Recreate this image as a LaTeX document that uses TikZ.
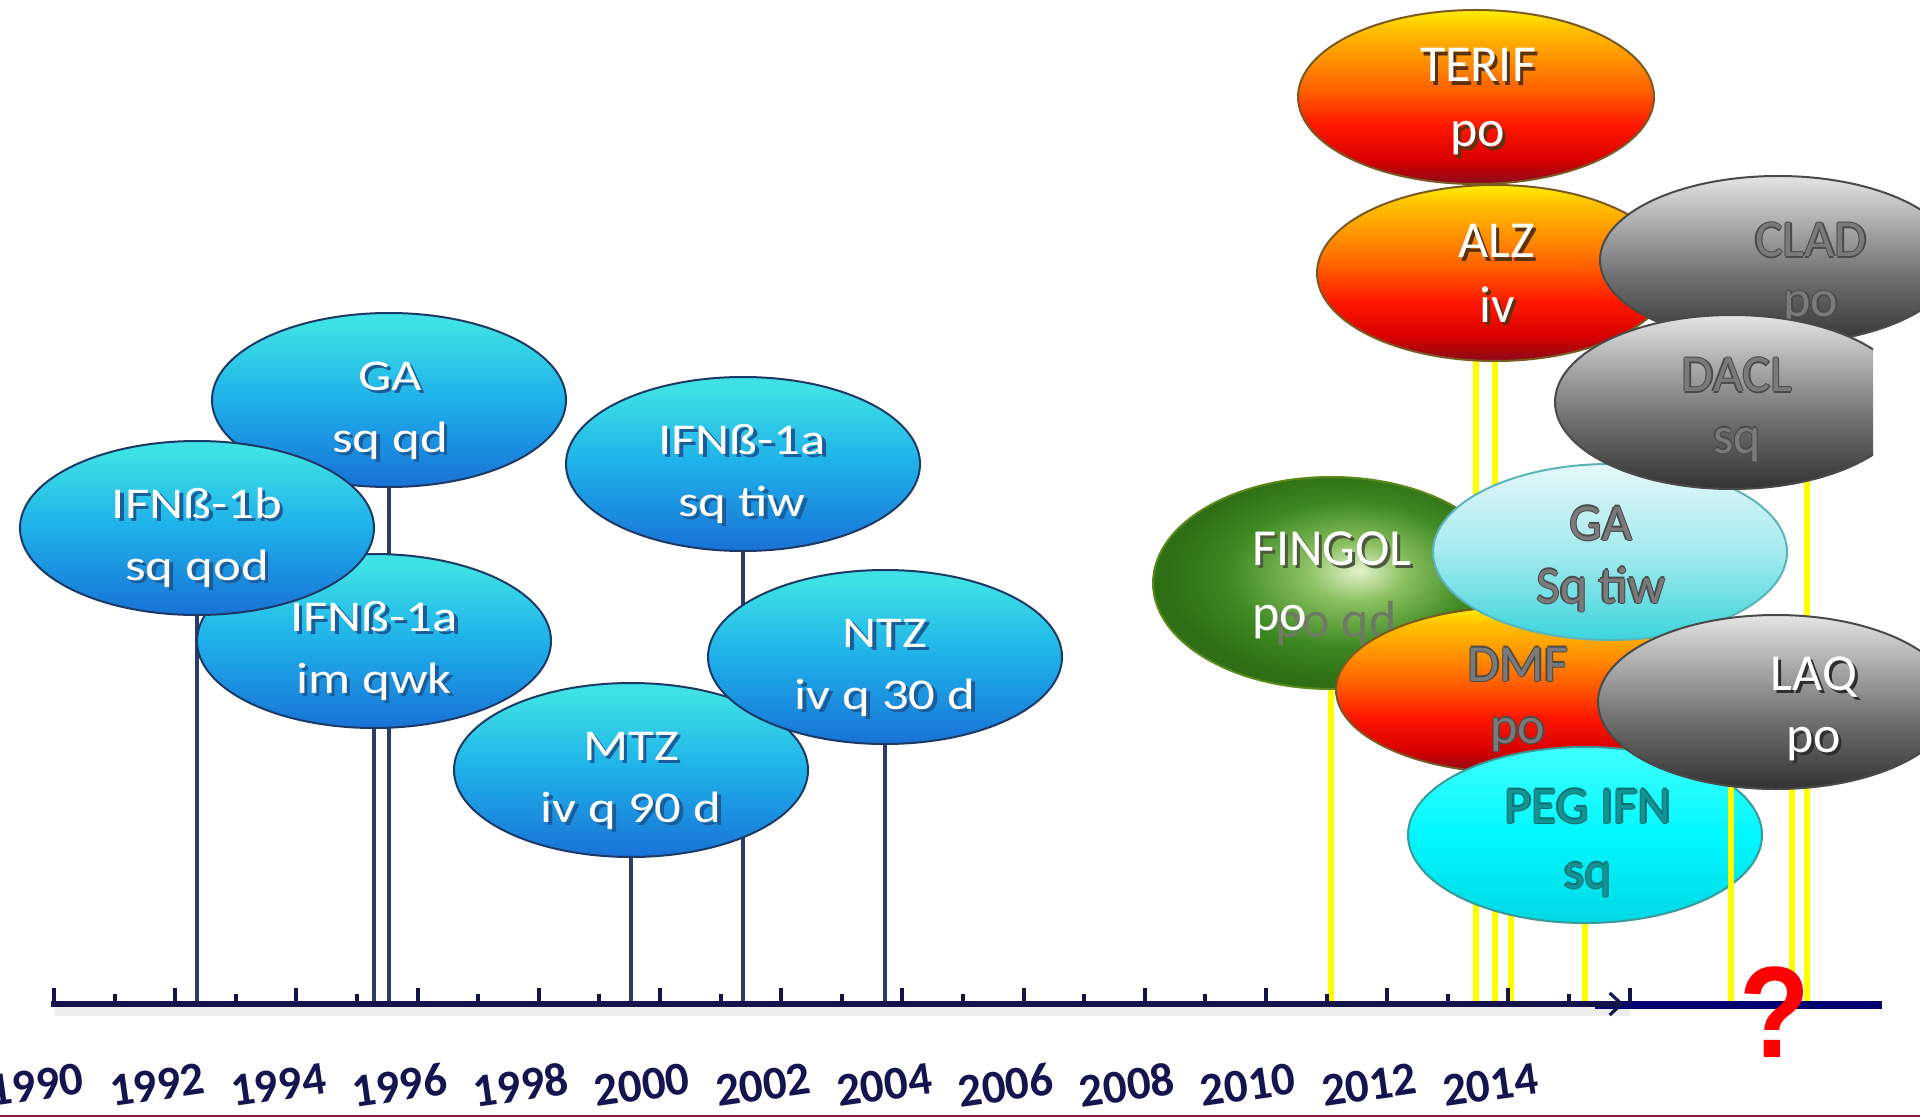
\documentclass[tikz,border=0pt]{standalone}
\usepackage{fontspec}
\setmainfont{Carlito}
\newfontfamily\qfont{Liberation Sans}
\usetikzlibrary{arrows.meta,shapes.geometric}
\pgfdeclarelayer{back}
\pgfdeclarelayer{bg}
\pgfsetlayers{back,bg,main}

\definecolor{bTop}{HTML}{3EE2E4}
\definecolor{bMid}{HTML}{1EB0EA}
\definecolor{bBot}{HTML}{1872D6}
\definecolor{bEdge}{HTML}{1D3A66}
\definecolor{bShd}{HTML}{1B5C9A}
\definecolor{bStem}{HTML}{2B3C6B}
\definecolor{wY}{HTML}{FFF000}
\definecolor{wOc}{HTML}{FFC200}
\definecolor{wOb}{HTML}{FF9800}
\definecolor{wOa}{HTML}{FF6000}
\definecolor{wRc}{HTML}{FF1800}
\definecolor{wRb}{HTML}{D80000}
\definecolor{wRa}{HTML}{8A0A1A}
\definecolor{wEdge}{HTML}{7A5A20}
\definecolor{wShd}{HTML}{5A3210}
\definecolor{gC}{HTML}{E4E4E4}
\definecolor{gB}{HTML}{B0B0B0}
\definecolor{gA}{HTML}{707070}
\definecolor{gZ}{HTML}{333333}
\definecolor{gEdge}{HTML}{4A4A4A}
\definecolor{cyTop}{HTML}{E4F8F9}
\definecolor{cyMid}{HTML}{A4EAEE}
\definecolor{cyBot}{HTML}{3CD4DC}
\definecolor{cyEdge}{HTML}{5AB4BC}
\definecolor{pgTop}{HTML}{40FFFF}
\definecolor{pgMid}{HTML}{00F8FF}
\definecolor{pgBot}{HTML}{00D8E4}
\definecolor{pgEdge}{HTML}{3A9A9A}
\definecolor{fgIn}{HTML}{E4F2CC}
\definecolor{fgMid}{HTML}{8AC060}
\definecolor{fgOut}{HTML}{3E8A22}
\definecolor{fgDk}{HTML}{2E6E14}
\definecolor{fgEdge}{HTML}{5A8A1A}
\definecolor{yStem}{HTML}{FFFF00}
\definecolor{axC}{HTML}{14144A}
\definecolor{navyC}{HTML}{000070}
\definecolor{yearC}{HTML}{141450}
\definecolor{qRed}{HTML}{FF0000}
\definecolor{maroonC}{HTML}{8B1A3A}
\definecolor{txtGrey}{HTML}{7A7A7A}
\definecolor{olGrey}{HTML}{4A4A4A}
\definecolor{pegTxt}{HTML}{139494}
\definecolor{pegOl}{HTML}{0B6E6E}
\definecolor{laqShd}{HTML}{303030}
\definecolor{fgShd}{HTML}{4E5A3E}
\definecolor{ghostC}{HTML}{6E7A64}

\pgfdeclareverticalshading{blueS}{100bp}{color(0bp)=(bBot); color(25bp)=(bBot); color(50bp)=(bMid); color(72bp)=(bTop); color(100bp)=(bTop)}
\pgfdeclareverticalshading{warmS}{100bp}{color(0bp)=(wRa); color(25bp)=(wRa); color(32bp)=(wRb); color(42bp)=(wRc); color(52bp)=(wOa); color(62bp)=(wOb); color(70bp)=(wOc); color(75bp)=(wY); color(100bp)=(wY)}
\pgfdeclareverticalshading{greyS}{100bp}{color(0bp)=(gZ); color(25bp)=(gZ); color(45bp)=(gA); color(62bp)=(gB); color(75bp)=(gC); color(100bp)=(gC)}
\pgfdeclareverticalshading{cyanS}{100bp}{color(0bp)=(cyBot); color(25bp)=(cyBot); color(50bp)=(cyMid); color(75bp)=(cyTop); color(100bp)=(cyTop)}
\pgfdeclareverticalshading{pegS}{100bp}{color(0bp)=(pgBot); color(25bp)=(pgBot); color(50bp)=(pgMid); color(75bp)=(pgTop); color(100bp)=(pgTop)}
\pgfdeclareradialshading{fingS}{\pgfpoint{4bp}{3bp}}{color(0bp)=(fgIn); color(7bp)=(fgMid); color(17bp)=(fgOut); color(25bp)=(fgDk); color(50bp)=(fgDk)}

\newcommand\bfnt{\fontsize{22pt}{26pt}\selectfont}
\newcommand\rfnt{\fontsize{26pt}{30pt}\selectfont}
\newcommand\shd[2]{\rlap{\kern1.5pt\raisebox{-1.8pt}{\textcolor{#2}{#1}}}#1}
\newcommand\olt[2]{\rlap{\kern0.7pt\textcolor{#2}{#1}}\rlap{\kern-0.7pt\textcolor{#2}{#1}}\rlap{\raisebox{0.7pt}{\textcolor{#2}{#1}}}\rlap{\raisebox{-0.7pt}{\textcolor{#2}{#1}}}#1}
\newcommand\bls[1]{\scalebox{1.2}[1]{\shd{#1}{bShd}}}

\begin{document}
\begin{tikzpicture}[x=0.5pt,y=-0.5pt,
  ell/.style={ellipse, inner sep=0pt, line width=1pt, shade},
  blueell/.style={ell, shading=blueS, draw=bEdge, minimum width=177pt, minimum height=87pt},
  warmell/.style={ell, shading=warmS, draw=wEdge, minimum width=178pt, minimum height=87pt},
  greyell/.style={ell, shading=greyS, draw=gEdge, minimum width=178pt, minimum height=86pt},
  cyanell/.style={ell, shading=cyanS, draw=cyEdge, minimum width=177pt, minimum height=88pt},
  pegell/.style={ell, shading=pegS, draw=pgEdge, minimum width=177pt, minimum height=88pt},
  fingell/.style={ell, shading=fingS, draw=fgEdge, minimum width=178pt, minimum height=106pt},
  btxt/.style={anchor=base, inner sep=0pt, text=white, font=\bfnt},
  rtxt/.style={anchor=base, inner sep=0pt, font=\rfnt},
  bstem/.style={draw=bStem, line width=1.9pt},
  ystem/.style={draw=yStem, line width=3pt},
  tickmark/.style={draw=axC, line width=2pt},
  axisline/.style={draw=axC, line width=3pt},
  axshadow/.style={draw=black!7, line width=5pt},
  navybar/.style={draw=navyC, line width=4pt},
  yearlbl/.style={inner sep=0pt, text=yearC, rotate=8, font=\fontsize{23.5pt}{26pt}\selectfont\bfseries},
  qmark/.style={inner sep=0pt, text=qRed, anchor=base, font=\qfont\bfseries\fontsize{65pt}{70pt}\selectfont}
]
\useasboundingbox (0,0) rectangle (1920,1117);
\clip (0,0) rectangle (1920,1117);
\begin{pgfonlayer}{back}
  \fill[white] (0,0) rectangle (1920,1117);
\end{pgfonlayer}

% ---------- axis ----------
\coordinate (axL) at (51,1004);
\coordinate (axR) at (1624,1004);
\coordinate (axTop) at (0,1001);
\coordinate (barL) at (1595,1005);
\coordinate (barR) at (1882,1005);
\coordinate (sdL) at (55,1011);
\coordinate (sdR) at (1630,1011);
\draw[axshadow] (sdL) -- (sdR);
\draw[navybar] (barL) -- (barR);
\foreach \k in {0,...,26}{
  \pgfmathsetmacro\tx{54+60.6*\k}
  \pgfmathsetmacro\ty{(mod(\k,2)==0) ? 988 : 994}
  \draw[tickmark] (\tx,1004) -- (\tx,\ty);
}
\draw[axisline, -{Straight Barb[length=6pt,width=11pt,line width=1.6pt]}] (axL) -- (axR);

\foreach \yr [count=\i from 0] in {1990,1992,...,2014}{
  \node[yearlbl] (yl-\yr) at ({36+121.2*\i},1085) {\yr};
}

% ---------- blue (left) ----------
\node[blueell] (gaqd) at (389,400) {};
\node[btxt] (gaqd-a) at (390,390) {\bls{GA}};
\node[btxt] (gaqd-b) at (390,452) {\bls{sq qd}};

\node[blueell] (ifnaim) at (374,641) {};
\node[btxt] (ifnaim-a) at (374,631) {\bls{IFNß-1a}};
\node[btxt] (ifnaim-b) at (374,693) {\bls{im qwk}};

\node[blueell] (ifnb) at (197,528) {};
\node[btxt] (ifnb-a) at (197,518) {\bls{IFNß-1b}};
\node[btxt] (ifnb-b) at (197,580) {\bls{sq qod}};

\node[blueell] (ifnatiw) at (743,464) {};
\node[btxt] (ifnatiw-a) at (742,454) {\bls{IFNß-1a}};
\node[btxt] (ifnatiw-b) at (742,516) {\bls{sq tiw}};

\node[blueell] (mtz) at (631,770) {};
\node[btxt] (mtz-a) at (631,760) {\bls{MTZ}};
\node[btxt] (mtz-b) at (631,822) {\bls{iv q 90 d}};

\node[blueell] (ntz) at (885,657) {};
\node[btxt] (ntz-a) at (885,647) {\bls{NTZ}};
\node[btxt] (ntz-b) at (885,709) {\bls{iv q 30 d}};

\begin{pgfonlayer}{bg}
  \foreach \n in {gaqd,ifnaim,ifnb,ifnatiw,mtz,ntz}{
    \draw[bstem] (\n.center) -- (\n.center |- axTop);
  }
\end{pgfonlayer}

% ---------- right cluster ----------
\node[warmell] (terif) at (1476,97) {};
\node[rtxt, text=white] (terif-a) at (1478,82) {\shd{TERIF}{wShd}};
\node[rtxt, text=white] (terif-b) at (1478,147) {\shd{po}{wShd}};

\node[warmell, minimum height=88pt] (alz) at (1495,273) {};
\node[rtxt, text=white] (alz-a) at (1497,258) {\shd{ALZ}{wShd}};
\node[rtxt, text=white] (alz-b) at (1497,322) {\shd{iv}{wShd}};

\node[greyell, minimum height=84pt] (clad) at (1778,260) {};
\node[rtxt, text=txtGrey] (clad-a) at (1811,257) {\olt{CLAD}{olGrey}};
\node[rtxt, text=txtGrey] (clad-b) at (1811,317) {\olt{po}{olGrey}};

\node[fingell] (fingol) at (1331,583) {};
\node[rtxt, text=white] (fingol-a) at (1332,565) {\shd{FINGOL}{fgShd}};
\node[rtxt, anchor=base west, text=ghostC] (fingol-g) at (1275,637) {po qd};
\node[rtxt, anchor=base west, text=white] (fingol-b) at (1252,630) {po};

\node[warmell, minimum width=180pt, minimum height=83pt] (dmf) at (1516,690) {};
\node[rtxt, text=txtGrey] (dmf-a) at (1518,681) {\olt{DMF}{olGrey}};
\node[rtxt, text=txtGrey] (dmf-b) at (1518,743) {\olt{po}{olGrey}};

\node[cyanell] (gatiw) at (1610,552) {};
\node[rtxt, text=txtGrey] (gatiw-a) at (1601,540) {\olt{GA}{olGrey}};
\node[rtxt, text=txtGrey] (gatiw-b) at (1601,603) {\olt{Sq tiw}{olGrey}};

\begin{scope}
  \clip (0,0) rectangle (1873,1117);
  \node[greyell, minimum width=177pt, minimum height=87pt] (dacl) at (1732,402) {};
\end{scope}
\node[rtxt, text=txtGrey] (dacl-a) at (1737,392) {\olt{DACL}{olGrey}};
\node[rtxt, text=txtGrey] (dacl-b) at (1737,453) {\olt{sq}{olGrey}};

\node[pegell] (peg) at (1585,835) {};
\node[rtxt, text=pegTxt] (peg-a) at (1588,823) {\olt{PEG IFN}{pegOl}};
\node[rtxt, text=pegTxt] (peg-b) at (1588,888) {\olt{sq}{pegOl}};

% stem drawn over PEG but under LAQ
\coordinate (s-gatiw) at (1731,702);
\draw[ystem] (s-gatiw) -- (s-gatiw |- axTop);

\node[greyell, minimum height=87pt] (laq) at (1776,702) {};
\node[rtxt, text=white] (laq-a) at (1814,690) {\shd{LAQ}{laqShd}};
\node[rtxt, text=white] (laq-b) at (1814,752) {\shd{po}{laqShd}};

\coordinate (s-dmf) at (1511,690);
\coordinate (s-laq) at (1792,702);
\coordinate (s-dacl) at (1807,402);
\begin{pgfonlayer}{bg}
  \foreach \n in {terif,alz,fingol,peg}{
    \draw[ystem] (\n.center) -- (\n.center |- axTop);
  }
  \foreach \n in {s-dmf,s-laq,s-dacl}{
    \draw[ystem] (\n) -- (\n |- axTop);
  }
\end{pgfonlayer}

% ---------- question mark ----------
\node[qmark] (qm) at (1775,1057) {\scalebox{0.89}[1]{?}};

% ---------- bottom rule ----------
\coordinate (btL) at (0,1116);
\coordinate (btR) at (1920,1116);
\draw[maroonC, line width=1pt] (btL) -- (btR);
\end{tikzpicture}
\end{document}
